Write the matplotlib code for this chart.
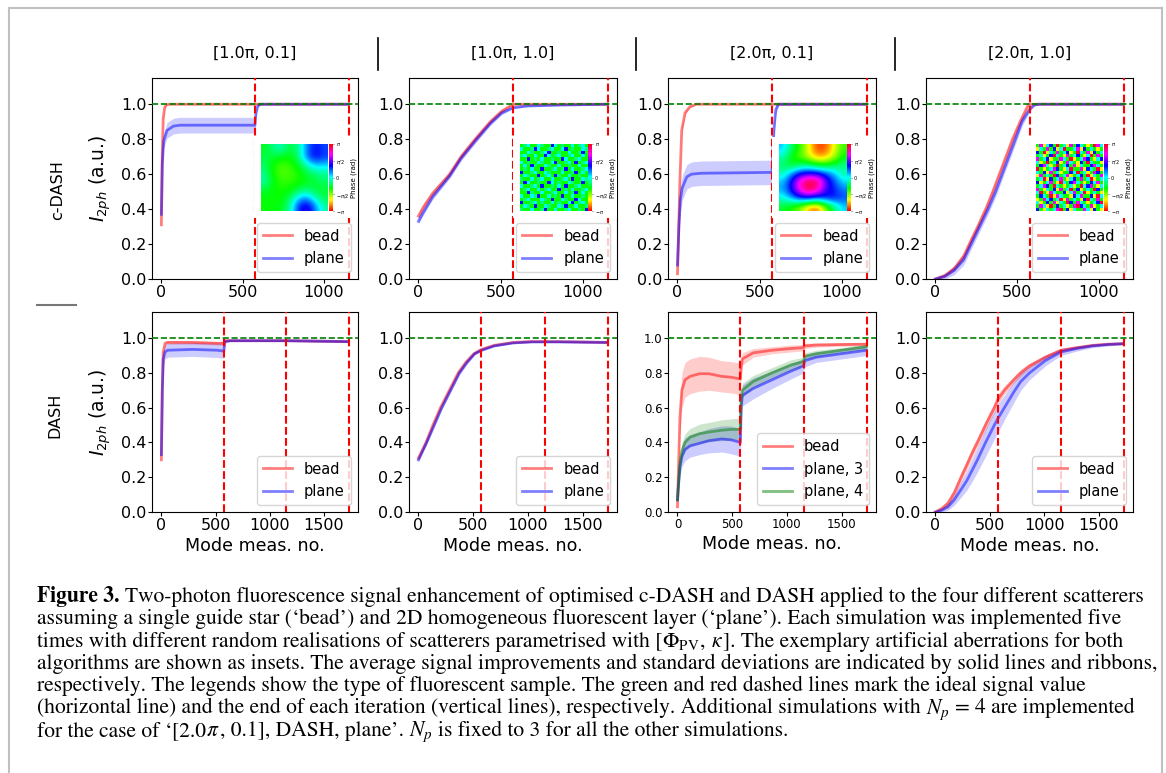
import numpy as np
import matplotlib
matplotlib.use("Agg")
import matplotlib.pyplot as plt
from matplotlib.patches import Rectangle
from matplotlib.lines import Line2D

# ---------------- data ----------------
N_ITER = 576  # mode measurements per iteration

col_titles = ["[1.0\u03c0, 0.1]", "[1.0\u03c0, 1.0]", "[2.0\u03c0, 0.1]", "[2.0\u03c0, 1.0]"]
row_titles = ["c-DASH", "DASH"]

# x given as fraction of an iteration
# --- c-DASH [1.0pi, 0.1]
t1_bead_x = [0, 0.01, 0.02, 0.035, 0.05, 0.08, 1.0, 2.0]
t1_bead_y = [0.31, 0.72, 0.92, 0.98, 0.995, 1.0, 1.0, 1.0]
t1_bead_s = [0.04, 0.04, 0.02, 0.01, 0.005, 0.003, 0.003, 0.003]
t1_plane_x = [0, 0.01, 0.025, 0.06, 0.13, 0.2, 1.0, 1.01, 1.03, 1.06, 2.0]
t1_plane_y = [0.37, 0.66, 0.79, 0.85, 0.875, 0.88, 0.88, 0.95, 0.99, 1.0, 1.0]
t1_plane_s = [0.01, 0.03, 0.04, 0.045, 0.045, 0.045, 0.045, 0.02, 0.005, 0.003, 0.003]
# --- c-DASH [1.0pi, 1.0]
t2_bead_x = [0, 0.05, 0.15, 0.33, 0.45, 0.6, 0.76, 0.88, 1.0, 1.1, 2.0]
t2_bead_y = [0.36, 0.41, 0.49, 0.6, 0.7, 0.8, 0.9, 0.96, 1.0, 1.0, 1.0]
t2_bead_s = [0.015, 0.015, 0.015, 0.015, 0.015, 0.015, 0.012, 0.01, 0.005, 0.003, 0.003]
t2_plane_x = [0, 0.05, 0.15, 0.33, 0.45, 0.6, 0.76, 0.88, 1.0, 1.15, 1.5, 2.0]
t2_plane_y = [0.33, 0.38, 0.47, 0.59, 0.69, 0.79, 0.89, 0.95, 0.98, 0.99, 0.995, 1.0]
t2_plane_s = [0.015, 0.015, 0.015, 0.015, 0.015, 0.015, 0.012, 0.01, 0.006, 0.004, 0.003, 0.003]
# --- c-DASH [2.0pi, 0.1]
t3_bead_x = [0, 0.01, 0.025, 0.045, 0.08, 0.13, 0.2, 1.0, 2.0]
t3_bead_y = [0.03, 0.2, 0.55, 0.85, 0.95, 0.985, 1.0, 1.0, 1.0]
t3_bead_s = [0.02, 0.03, 0.03, 0.02, 0.01, 0.005, 0.003, 0.003, 0.003]
t3_plane_x = [0, 0.015, 0.03, 0.05, 0.08, 0.1, 0.15, 0.25, 1.0, 1.02, 1.04, 1.07, 2.0]
t3_plane_y = [0.08, 0.3, 0.45, 0.52, 0.56, 0.585, 0.6, 0.605, 0.61, 0.85, 0.97, 1.0, 1.0]
t3_plane_s = [0.01, 0.05, 0.07, 0.07, 0.07, 0.07, 0.07, 0.07, 0.07, 0.05, 0.03, 0.005, 0.003]
# --- c-DASH [2.0pi, 1.0]
t4_bead_x = [0, 0.1, 0.2, 0.3, 0.36, 0.45, 0.535, 0.61, 0.68, 0.75, 0.82, 0.9, 0.99, 1.05, 2.0]
t4_bead_y = [0.0, 0.02, 0.06, 0.13, 0.2, 0.3, 0.4, 0.5, 0.6, 0.7, 0.8, 0.9, 1.0, 1.0, 1.0]
t4_bead_s = [0.005, 0.01, 0.015, 0.02, 0.02, 0.02, 0.02, 0.02, 0.02, 0.02, 0.02, 0.015, 0.005, 0.003, 0.003]
t4_plane_x = [0, 0.1, 0.2, 0.3, 0.38, 0.47, 0.56, 0.64, 0.71, 0.78, 0.85, 0.92, 1.0, 1.05, 1.1, 2.0]
t4_plane_y = [0.0, 0.015, 0.05, 0.11, 0.2, 0.3, 0.4, 0.5, 0.6, 0.7, 0.8, 0.9, 0.97, 0.995, 1.0, 1.0]
t4_plane_s = [0.005, 0.015, 0.025, 0.03, 0.03, 0.03, 0.03, 0.03, 0.03, 0.03, 0.03, 0.025, 0.015, 0.005, 0.003, 0.003]
# --- DASH [1.0pi, 0.1]
b1_bead_x = [0, 0.015, 0.03, 0.06, 0.1, 0.5, 0.9, 1.0, 1.02, 1.2, 2.0, 3.0]
b1_bead_y = [0.3, 0.7, 0.92, 0.97, 0.975, 0.975, 0.97, 0.97, 0.985, 0.985, 0.985, 0.98]
b1_bead_s = [0.03, 0.03, 0.015, 0.01, 0.01, 0.01, 0.01, 0.01, 0.005, 0.004, 0.004, 0.004]
b1_plane_x = [0, 0.015, 0.03, 0.06, 0.1, 0.5, 0.9, 1.0, 1.02, 1.1, 2.0, 3.0]
b1_plane_y = [0.33, 0.7, 0.88, 0.92, 0.93, 0.935, 0.93, 0.925, 0.98, 0.985, 0.985, 0.98]
b1_plane_s = [0.01, 0.03, 0.04, 0.04, 0.04, 0.04, 0.042, 0.042, 0.008, 0.005, 0.005, 0.005]
# --- DASH [1.0pi, 1.0]
b2_bead_x = [0, 0.12, 0.23, 0.35, 0.49, 0.63, 0.75, 0.88, 1.0, 1.2, 1.5, 1.8, 2.2, 3.0]
b2_bead_y = [0.31, 0.4, 0.5, 0.6, 0.7, 0.8, 0.86, 0.91, 0.935, 0.958, 0.975, 0.98, 0.98, 0.975]
b2_bead_s = [0.01, 0.012, 0.012, 0.012, 0.012, 0.012, 0.01, 0.008, 0.006, 0.005, 0.004, 0.004, 0.004, 0.004]
b2_plane_x = [0, 0.13, 0.25, 0.37, 0.51, 0.65, 0.77, 0.89, 1.0, 1.2, 1.5, 1.8, 2.2, 3.0]
b2_plane_y = [0.3, 0.4, 0.5, 0.6, 0.7, 0.8, 0.86, 0.91, 0.93, 0.955, 0.972, 0.978, 0.978, 0.975]
b2_plane_s = [0.01, 0.012, 0.012, 0.012, 0.012, 0.012, 0.01, 0.008, 0.006, 0.005, 0.004, 0.004, 0.004, 0.004]
# --- DASH [2.0pi, 0.1]
b3_x = [0, 0.02, 0.04, 0.07, 0.12, 0.2, 0.35, 0.5, 0.7, 0.85, 1.0, 1.01, 1.03, 1.2, 1.5, 1.8, 2.0, 2.02, 2.2, 2.6, 3.0]
b3_bead_y = [0.03, 0.3, 0.55, 0.7, 0.76, 0.78, 0.795, 0.795, 0.78, 0.775, 0.765, 0.83, 0.88, 0.915, 0.93, 0.94, 0.945, 0.955, 0.96, 0.963, 0.965]
b3_bead_s = [0.01, 0.06, 0.09, 0.1, 0.1, 0.1, 0.1, 0.095, 0.09, 0.09, 0.09, 0.05, 0.035, 0.025, 0.02, 0.02, 0.018, 0.015, 0.012, 0.01, 0.01]
b3_plane3_y = [0.07, 0.17, 0.26, 0.32, 0.36, 0.38, 0.395, 0.41, 0.42, 0.415, 0.40, 0.6, 0.67, 0.71, 0.76, 0.81, 0.84, 0.87, 0.89, 0.91, 0.93]
b3_plane3_s = [0.01, 0.03, 0.05, 0.06, 0.065, 0.065, 0.065, 0.07, 0.075, 0.08, 0.08, 0.07, 0.06, 0.06, 0.05, 0.045, 0.04, 0.035, 0.03, 0.03, 0.03]
b3_plane4_y = [0.07, 0.18, 0.28, 0.35, 0.40, 0.43, 0.45, 0.46, 0.47, 0.475, 0.475, 0.65, 0.70, 0.75, 0.80, 0.845, 0.865, 0.895, 0.91, 0.93, 0.95]
b3_plane4_s = [0.01, 0.03, 0.04, 0.045, 0.05, 0.05, 0.055, 0.055, 0.06, 0.06, 0.065, 0.05, 0.04, 0.035, 0.03, 0.03, 0.025, 0.02, 0.02, 0.015, 0.015]
# --- DASH [2.0pi, 1.0]
b4_x = [0, 0.1, 0.2, 0.3, 0.41, 0.5, 0.6, 0.67, 0.8, 0.94, 1.0, 1.1, 1.25, 1.36, 1.5, 1.75, 2.0, 2.25, 2.5, 2.75, 3.0]
b4_bead_y = [0.0, 0.02, 0.05, 0.11, 0.2, 0.27, 0.35, 0.4, 0.5, 0.6, 0.65, 0.7, 0.76, 0.8, 0.84, 0.89, 0.93, 0.945, 0.958, 0.965, 0.968]
b4_bead_s = [0.005, 0.01, 0.02, 0.025, 0.03, 0.03, 0.03, 0.03, 0.03, 0.03, 0.03, 0.025, 0.02, 0.02, 0.015, 0.012, 0.01, 0.008, 0.006, 0.005, 0.005]
b4_plane_y = [0.0, 0.01, 0.03, 0.07, 0.13, 0.18, 0.25, 0.3, 0.4, 0.5, 0.54, 0.6, 0.69, 0.75, 0.8, 0.87, 0.92, 0.94, 0.955, 0.963, 0.968]
b4_plane_s = [0.005, 0.01, 0.02, 0.03, 0.045, 0.055, 0.065, 0.07, 0.08, 0.08, 0.08, 0.07, 0.06, 0.05, 0.04, 0.03, 0.02, 0.015, 0.01, 0.008, 0.006]

# inset phase maps (radians); smooth ones on a coarse grid
phase_c1 = [
    [-0.9, -0.4, -0.2, -0.8, -0.4, 0.6, 1.1, 0.8],
    [-0.7, -0.8, -0.9, -1.0, -0.5, 0.7, 1.2, 0.9],
    [-0.6, -1.1, -1.3, -1.2, -0.9, -0.2, 0.3, 0.2],
    [-0.4, -1.1, -1.35, -1.3, -1.1, -0.8, -0.5, -0.4],
    [-0.3, -1.0, -1.2, -1.2, -1.1, -0.9, -0.8, -0.6],
    [-0.8, -1.0, -1.1, -1.0, -0.7, -0.5, -0.8, -0.8],
    [-1.0, -1.0, -1.0, -0.6, 0.3, 0.6, -0.2, -0.7],
    [-1.0, -1.0, -0.9, -0.3, 1.0, 1.4, 0.6, -0.3],
]
phase_c3 = [
    [0.3, -0.6, -1.2, -2.0, -2.9, -2.8, -2.0, -1.2],
    [-0.2, -1.0, -1.4, -1.9, -2.5, -2.4, -1.8, -1.0],
    [-0.6, -1.0, -0.6, -0.6, -0.9, -1.0, -0.7, -0.4],
    [-0.3, 0.5, 1.1, 1.3, 1.2, 0.8, 0.3, -0.4],
    [0.3, 1.2, 2.5, 3.1, 3.0, 1.6, 0.8, 0.2],
    [0.4, 1.2, 2.3, 3.0, 2.5, 1.3, 1.0, 0.6],
    [-0.2, 0.4, 0.9, 1.0, 0.7, 1.0, 1.1, 0.8],
    [-0.8, -1.2, -1.6, -2.5, -2.8, -1.6, -0.6, 0.2],
]
# pixelated maps, one letter per pixel (hue code)
hue_code = {"R": 3.0, "O": -2.6, "Y": -2.1, "G": -1.05, "T": -0.5,
            "C": 0.0, "B": 1.05, "M": 2.1, "P": 2.6}
phase_c2 = [
    "GTCGGCTGGBCGTGGCGTCG", "CGGTBCGGTCGGCBGTGGCT", "GGCTGGTCBGGTGGCGGTBG",
    "TCGGCGGBCGTCGGTCGGCG", "GGBGTGCGGTGGBCGGTCGG", "CGTGGCTGGCBGGTCGBGTC",
    "GCGBTGGCTGGCGGTGGCGG", "GTGCGGBGGTCGTBGCGGTC", "BGGTCGGCTGGGCGGTBGCG",
    "GCTGGBGTCGBTGGCGGTGG", "TGGCGTCGGCGGTCGBGGCT", "GBCGGTGGBCGTGGCTGGBG",
    "CGGTCGBGGTGCGBGGTCGG", "GTCGGCGTCGGBGTGCGGTC", "GGBTGGCGGTCGGCGTBGCG",
    "CGGCTBGGCGTGBGGCGGTG", "GTCGGGCTGBGGCTGGBCGG", "BGGTCGTGGCGTGGCBGTCG",
    "GCTGBGGCTGGCTBGGCGGT", "TGGCGGTBGGCGGTCGGTGB",
]
phase_c4 = [
    "GMYCBGRGCYMGBCGYGRMC", "YCGMGBYCRGGCMYBGCGYG", "BGRYCGMGCBYGRCGMYBGC",
    "GCYGBRCGYMGCBGYCRGMG", "MGCBYGGMCGRYGCMBGYCB", "CYGRGCBYGMCGYBGRCGGY",
    "GBMCYGRGCBGMYCGGBMCG", "RGYGCMBGYCRGGMYBCGRY", "CGBYMGCYGGBCRGCYGMBG",
    "YMGCGRBGCMYGCBGRYCGM", "GCRYBGCMGYCBGMGCRYGC", "BYGCMGYRCGBMCGYGBCMG",
    "GCMBGRCGYGCYGRCBMGYC", "MGYCGBYMGCRGBYGCGRBG", "CRGYMCGGBYCMGCRYGCGY",
    "GBCGRYMCGGYBCMGGBYRC", "YGMCBGCRYMGCGYBRCGMG", "CYGBGMYCGRBGMCGYGCBR",
    "GMCYRGBGCYGMRBCGMYGC", "BGYCGCMRGBYCGGMCYBGY",
]

caption_lines = [
    " Two-photon fluorescence signal enhancement of optimised c-DASH and DASH applied to the four different scatterers",
    "assuming a single guide star (\u2018bead\u2019) and 2D homogeneous fluorescent layer (\u2018plane\u2019). Each simulation was implemented five",
    "times with different random realisations of scatterers parametrised with [$\\Phi_{\\rm PV}$, $\\kappa$]. The exemplary artificial aberrations for both",
    "algorithms are shown as insets. The average signal improvements and standard deviations are indicated by solid lines and ribbons,",
    "respectively. The legends show the type of fluorescent sample. The green and red dashed lines mark the ideal signal value",
    "(horizontal line) and the end of each iteration (vertical lines), respectively. Additional simulations with $N_p$ = 4 are implemented",
    "for the case of \u2018[2.0$\\pi$, 0.1], DASH, plane\u2019. $N_p$ is fixed to 3 for all the other simulations.",
]

# ---------------- figure ----------------
W, H = 1166, 773
fig = plt.figure(figsize=(W / 100, H / 100), dpi=100)
fig.patch.set_facecolor("white")


def box(x0, y0, x1, y1):
    return [x0 / W, 1 - y1 / H, (x1 - x0) / W, (y1 - y0) / H]


lefts = [152, 409, 668, 926]
rights = [358, 617, 876, 1133]
rows_y = [(78, 279), (312, 512)]

RED, BLUE, GREEN = "red", "blue", "green"


def series(ax, xf, y, s, color, label):
    x = np.asarray(xf, float) * N_ITER
    y = np.asarray(y, float)
    s = np.asarray(s, float)
    ax.fill_between(x, y - s, y + s, color=color, alpha=0.2, lw=0)
    ax.plot(x, y, color=color, alpha=0.5, lw=2, label=label)


panels = [
    [(t1_bead_x, t1_bead_y, t1_bead_s, RED, "bead"), (t1_plane_x, t1_plane_y, t1_plane_s, BLUE, "plane")],
    [(t2_bead_x, t2_bead_y, t2_bead_s, RED, "bead"), (t2_plane_x, t2_plane_y, t2_plane_s, BLUE, "plane")],
    [(t3_bead_x, t3_bead_y, t3_bead_s, RED, "bead"), (t3_plane_x, t3_plane_y, t3_plane_s, BLUE, "plane")],
    [(t4_bead_x, t4_bead_y, t4_bead_s, RED, "bead"), (t4_plane_x, t4_plane_y, t4_plane_s, BLUE, "plane")],
    [(b1_bead_x, b1_bead_y, b1_bead_s, RED, "bead"), (b1_plane_x, b1_plane_y, b1_plane_s, BLUE, "plane")],
    [(b2_bead_x, b2_bead_y, b2_bead_s, RED, "bead"), (b2_plane_x, b2_plane_y, b2_plane_s, BLUE, "plane")],
    [(b3_x, b3_bead_y, b3_bead_s, RED, "bead"), (b3_x, b3_plane3_y, b3_plane3_s, BLUE, "plane, 3"),
     (b3_x, b3_plane4_y, b3_plane4_s, GREEN, "plane, 4")],
    [(b4_x, b4_bead_y, b4_bead_s, RED, "bead"), (b4_x, b4_plane_y, b4_plane_s, BLUE, "plane")],
]

for r in range(2):
    for c in range(4):
        y0, y1 = rows_y[r]
        ax = fig.add_axes(box(lefts[c], y0, rights[c], y1))
        for (xf, y, s, colr, lab) in panels[r * 4 + c]:
            series(ax, xf, y, s, colr, lab)
        n_it = 2 if r == 0 else 3
        for k in range(1, n_it + 1):
            ax.axvline(k * N_ITER, color="red", ls="--", lw=1.5, zorder=3)
        ax.axhline(1.0, color="green", ls="--", lw=1.2, zorder=3)
        ax.set_ylim(0, 1.15)
        ax.set_yticks([0, 0.2, 0.4, 0.6, 0.8, 1.0])
        ax.set_xticks([0, 500, 1000] if r == 0 else [0, 500, 1000, 1500])
        small = (r == 1 and c == 2)
        ax.tick_params(labelsize=8.5 if small else 11.5, length=3, pad=1)
        ax.legend(loc="lower right", fontsize=10.5)
        if r == 1:
            ax.set_xlabel("Mode meas. no.", fontsize=12.6, labelpad=3)
        if c == 0:
            ax.set_ylabel(r"$I_{2ph}$ (a.u.)", fontsize=13.5, labelpad=6)
        if r == 0:
            fig.text((lefts[c] + rights[c]) / 2 / W, 1 - 53 / H, col_titles[c],
                     ha="center", va="center", fontsize=11.5)

# row labels
fig.text(58 / W, 1 - 190 / H, row_titles[0], rotation=90, ha="center", va="center", fontsize=11.5)
fig.text(55 / W, 1 - 415 / H, row_titles[1], rotation=90, ha="center", va="center", fontsize=11.5)

# insets
cmap = plt.get_cmap("hsv")
img_lefts = [261, 520, 779, 1036]
maps = [
    (np.array(phase_c1), "bicubic"),
    (np.array([[hue_code[ch] for ch in row] for row in phase_c2]), "nearest"),
    (np.array(phase_c3), "bicubic"),
    (np.array([[hue_code[ch] for ch in row] for row in phase_c4]), "nearest"),
]
for c in range(4):
    il = img_lefts[c]
    fig.add_artist(Rectangle(((il - 7) / W, 1 - 218 / H), 104 / W, 81 / H,
                             transform=fig.transFigure, facecolor="white",
                             edgecolor="none", zorder=1))
    iax = fig.add_axes(box(il, 144, il + 67, 211), zorder=2)
    arr, interp = maps[c]
    im = iax.imshow(arr, cmap=cmap, vmin=-np.pi, vmax=np.pi, interpolation=interp, aspect="auto")
    iax.set_xticks([])
    iax.set_yticks([])
    for sp in iax.spines.values():
        sp.set_visible(False)
    cax = fig.add_axes(box(il + 68, 144, il + 72, 211), zorder=2)
    cb = fig.colorbar(im, cax=cax, ticks=[-np.pi, -np.pi / 2, 0, np.pi / 2, np.pi])
    cb.ax.set_yticklabels([r"$-\pi$", r"$-\pi/2$", "0", r"$\pi/2$", r"$\pi$"])
    cb.ax.tick_params(labelsize=3.5, length=1, width=0.4, pad=1)
    cb.outline.set_visible(False)
    cb.set_label("Phase (rad)", fontsize=5, labelpad=1)

# decorative separators and frame
for xs in [378, 636, 895]:
    fig.add_artist(Line2D([xs / W, xs / W], [1 - 38 / H, 1 - 70 / H], transform=fig.transFigure,
                          color="black", lw=1.2))
fig.add_artist(Line2D([37 / W, 76 / W], [1 - 305 / H, 1 - 305 / H], transform=fig.transFigure,
                      color="#777777", lw=1.5))
fcol = "#c0c0c0"
fig.add_artist(Line2D([9 / W, 9 / W], [0, 1 - 8 / H], transform=fig.transFigure, color=fcol, lw=1.5))
fig.add_artist(Line2D([9 / W, 1162 / W], [1 - 8 / H, 1 - 8 / H], transform=fig.transFigure, color=fcol, lw=1.5))
fig.add_artist(Line2D([1162 / W, 1162 / W], [0, 1 - 8 / H], transform=fig.transFigure, color=fcol, lw=1.5))

# caption
renderer = fig.canvas.get_renderer()
cap_kw = dict(family="STIXGeneral", math_fontfamily="stix", va="baseline", ha="left")


def text_w(s, fs, **kw):
    t = fig.text(0, 0, s, fontsize=fs, **cap_kw, **kw)
    w = t.get_window_extent(renderer).width
    t.remove()
    return w


cfs = 13 * (1120 / text_w(caption_lines[3], 13))
space_w = text_w("l l", cfs) - text_w("ll", cfs)


def draw_caption_line(x, yb, line):
    parts = line.split("$")
    for k, part in enumerate(parts):
        if part == "":
            continue
        if k % 2 == 1:
            t = fig.text(x / W, 1 - yb / H, "$" + part + "$", fontsize=cfs, **cap_kw)
            x += t.get_window_extent(renderer).width
        else:
            lead = len(part) - len(part.lstrip(" "))
            trail = len(part) - len(part.rstrip(" "))
            core = part.strip(" ")
            x += lead * space_w
            if core:
                t = fig.text(x / W, 1 - yb / H, core, fontsize=cfs, **cap_kw)
                x += t.get_window_extent(renderer).width
            x += trail * space_w
    return x


base0 = 602
step = 22.3
bold = fig.text(37 / W, 1 - base0 / H, "Figure 3.", fontsize=cfs, weight="bold", **cap_kw)
bw = bold.get_window_extent(renderer).width
for i, line in enumerate(caption_lines):
    x0 = 37 + (bw if i == 0 else 0)
    draw_caption_line(x0, base0 + i * step, line)

fig.savefig("out.png", dpi=100, facecolor="white")
